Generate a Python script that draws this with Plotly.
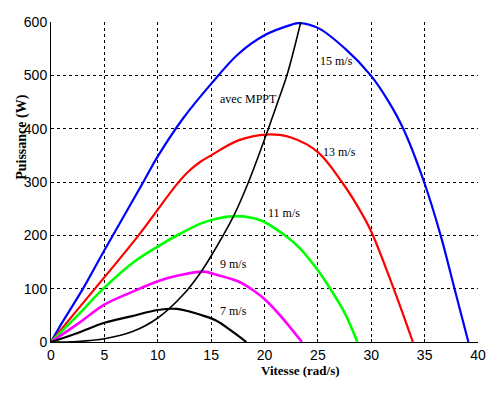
import plotly.graph_objects as go

# Wind speed curves: rotor speed (rad/s) vs power (W)
x15 = [0, 1, 3, 5, 8.65, 10.0, 12.4, 15.0, 17.55, 20.0, 22.55, 23.2, 25.0, 27.55, 29.95, 31.5, 33.0, 34.95, 36.5, 37.8, 39.1]
p15 = [0, 35, 100, 172, 300, 348, 420, 484, 540, 575, 595, 598, 589, 550, 500, 455, 400, 300, 200, 100, 0]

x13 = [0, 2, 4.2, 8.2, 11.8, 13.0, 14.0, 15.0, 17.55, 20.2, 22.55, 25.0, 27.25, 29.0, 30.05, 32.1, 33.9]
p13 = [0, 49, 102, 200, 296, 322, 338, 350, 378, 389, 383, 356, 300, 245, 205, 100, 0]

x11 = [0, 2.4, 4.9, 7.7, 10.0, 12.0, 14.0, 15.7, 17.4, 19.0, 19.9, 21.9, 23.3, 25.05, 26.15, 27.5, 28.7]
p11 = [0, 48, 100, 149, 179, 202, 222, 232, 236, 232, 226, 200, 176, 133, 100, 55, 0]

x9 = [0, 2.5, 5.0, 7.5, 10.0, 12.0, 14.3, 15.5, 17.7, 19.0, 20.2, 21.8, 23.5]
p9 = [0, 34, 70, 93, 114, 125, 132, 126, 112, 96, 77, 42, 0]

x7 = [0, 2.5, 5.0, 7.5, 10.0, 11.8, 13.0, 14.0, 15.5, 17.1, 18.3]
p7 = [0, 17, 36, 48, 60, 62, 57, 51, 40, 18, 0]

x_mppt = [0, 2.5, 5.0, 7.7, 10.0, 12.4, 14.0, 14.9, 17.1, 18.5, 20.2, 21.15, 22.1, 23.4]
p_mppt = [0, 1, 6, 20, 45, 89, 130, 158, 236, 300, 391, 445, 500, 600]

x_ticks = [0, 5, 10, 15, 20, 25, 30, 35, 40]
y_ticks = [0, 100, 200, 300, 400, 500, 600]

labels = ["15 m/s", "avec MPPT", "13 m/s", "11 m/s", "9 m/s", "7 m/s"]
label_x = [26.7, 18.5, 27.0, 21.85, 17.1, 17.1]
label_y = [526, 456, 356, 242, 147, 58]

series = [
    (x15, p15, "#0000ff", 2.2),
    (x13, p13, "#ff0000", 2.2),
    (x11, p11, "#00ff00", 2.6),
    (x9, p9, "#ff00ff", 2.6),
    (x7, p7, "#000000", 2.2),
    (x_mppt, p_mppt, "#000000", 1.6),
]

fig = go.Figure()
for xs, ps, col, w in series:
    fig.add_trace(go.Scatter(x=xs, y=ps, mode="lines",
                             line=dict(color=col, width=w, shape="spline", smoothing=1.0),
                             showlegend=False, hoverinfo="skip", cliponaxis=False))

for t, lx, ly in zip(labels, label_x, label_y):
    fig.add_annotation(x=lx, y=ly, text=t, showarrow=False,
                       font=dict(family="Liberation Serif, Times New Roman, serif", size=12, color="black"))

tick_font = dict(family="Liberation Sans, Arial, sans-serif", size=14, color="black")

# page body has an 8px margin; compensate so the plot sits where the reference has it
OFF = 8
L, R, T, B = 51 - OFF, 19, 22 - OFF, 52.5
W, H = 497 - OFF, 395 - OFF
pw, ph = W - L - R, H - T - B
bottom_px = H - B + OFF  # page y of the x axis

fig.update_layout(
    width=W, height=H,
    margin=dict(l=L, r=R, t=T, b=B, autoexpand=False),
    paper_bgcolor="white", plot_bgcolor="white",
    xaxis=dict(range=[0, 40], tickvals=x_ticks, ticktext=[str(v) for v in x_ticks],
               showgrid=True, gridcolor="black", gridwidth=1, griddash="3px,3px",
               showline=True, linecolor="black", linewidth=1, mirror=False,
               zeroline=False, ticks="inside", ticklen=3, tickcolor="black",
               tickfont=tick_font, automargin=False),
    yaxis=dict(range=[0, 600], tickvals=y_ticks, ticktext=[str(v) for v in y_ticks],
               showgrid=True, gridcolor="black", gridwidth=1, griddash="3px,3px",
               showline=True, linecolor="black", linewidth=1, mirror=False,
               zeroline=False, ticks="inside", ticklen=3, tickcolor="black",
               tickfont=tick_font, automargin=False),
)

fig.add_annotation(xref="paper", yref="paper", x=(341.7 - 51) / pw, y=-(381 - bottom_px) / ph,
                   text="<b>Vitesse (rad/s)</b>", showarrow=False,
                   font=dict(family="Liberation Serif, Times New Roman, serif", size=13, color="black"))
fig.add_annotation(xref="paper", yref="paper", x=-(51 - 12) / pw, y=(bottom_px - 137) / ph,
                   text="<b>Puissance (W)</b>", showarrow=False, textangle=-90,
                   font=dict(family="Liberation Serif, Times New Roman, serif", size=14, color="black"))

fig.write_html("out.html")
